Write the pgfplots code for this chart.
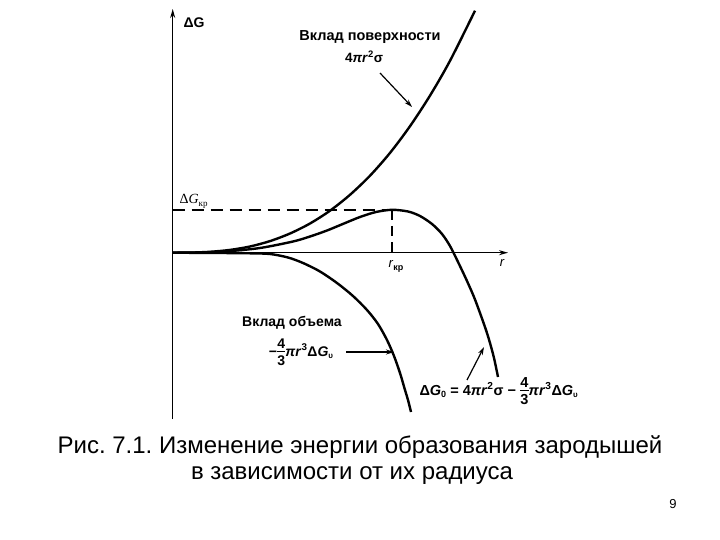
\documentclass[border=0pt]{standalone}
\usepackage{pgfplots}
\pgfplotsset{compat=1.18}
\usepackage{fontspec}
\setmainfont{Liberation Sans}
\newfontfamily\serif{Liberation Serif}
\usetikzlibrary{arrows.meta}
\newcommand{\ft}{\raisebox{-0.65em}{\shortstack{4\\[0pt]\rule{0.6em}{1.1pt}\\[0pt]3}}}
\begin{document}
\frenchspacing
\begin{tikzpicture}
\begin{axis}[
  scale only axis, width=720pt, height=540pt,
  xmin=0, xmax=720, ymin=0, ymax=540, y dir=reverse,
  hide axis, clip=false,
]
\path (axis cs:0,0) rectangle (axis cs:720,540);
% axes
\addplot[black, line width=1.3pt, -{Stealth[length=9pt,width=5pt]}] coordinates {(172.7,419) (172.7,9)};
\addplot[black, line width=1.3pt, -{Stealth[length=9pt,width=5pt]}] coordinates {(172.7,252.7) (508,252.7)};
% dashed critical lines
\addplot[black, line width=1.3pt, dash pattern=on 12pt off 7pt] coordinates {(172.7,210) (392,210)};
\addplot[black, line width=1.3pt, dash pattern=on 10pt off 6pt] coordinates {(392,210) (392,258)};
% surface contribution
\addplot[black, line width=2.4pt, smooth] coordinates {
 (172.7,252.7) (190,252.6) (210,251.8) (230,249.9) (250,246.5) (270,241.1) (290,233.5) (310,223.5)
 (330,210.7) (350,194.8) (370,175.7) (390,152.9) (410,126.2) (430,95.6) (450,60.8) (475,10.7)};
% total
\addplot[black, line width=2.4pt, smooth] coordinates {
 (172.7,252.7) (200,252.5) (227,251.3) (260,248) (293,241.5) (310,236.5) (327,230.5) (344,223.5) (360,217)
 (376,212) (392,209.8) (408,211.5) (420,216) (432,224) (442,234) (450,246) (459,264) (467,281) (474,297)
 (480,313) (486,330) (490,343) (494,358) (498,377)};
% volume
\addplot[black, line width=2.4pt, smooth] coordinates {
 (172.7,252.7) (220,253) (250,253.3) (270,254) (288,257.5) (303,263) (320,271.5) (337,283) (353,296) (367,310)
 (378,324) (387,340) (394,356) (400,373) (405,390) (408,400) (411,412)};
% annotation arrows
\draw[line width=1.2pt, -{Stealth[length=8pt,width=5pt]}] (axis cs:380,73) -- (axis cs:412,107);
\draw[line width=1.2pt, -{Stealth[length=8pt,width=5pt]}] (axis cs:346,352) -- (axis cs:394,352);
\draw[line width=1.2pt, -{Stealth[length=8pt,width=5pt]}] (axis cs:467,380) -- (axis cs:484,347);
% labels
\node[anchor=west, font=\fontsize{14}{16}\selectfont\bfseries] at (axis cs:180,23) {ΔG};
\node[anchor=west, font=\fontsize{14}{16}\selectfont\serif] at (axis cs:176,201) {Δ\textit{G}\raisebox{-3pt}{\fontsize{9}{10}\selectfont кр}};
\node[anchor=center, font=\fontsize{13}{15}\selectfont\itshape] at (axis cs:502,263) {r};
\node[anchor=center, font=\fontsize{13}{15}\selectfont] at (axis cs:396,266) {\textit{r}\raisebox{-3pt}{\fontsize{9}{10}\selectfont\bfseries кр}};
\node[anchor=center, font=\fontsize{14.5}{16}\selectfont\bfseries] at (axis cs:370,37) {Вклад поверхности};
\node[anchor=center, font=\fontsize{13.5}{15}\selectfont\bfseries] at (axis cs:364,57) {4\textit{πr}\textsuperscript{2}σ};
\node[anchor=center, font=\fontsize{14}{16}\selectfont\bfseries] at (axis cs:292,323) {Вклад объема};
\node[anchor=center, font=\fontsize{14}{15}\selectfont\bfseries] at (axis cs:301,352) {−\ft\textit{πr}\textsuperscript{3}Δ\textit{G}\raisebox{-2pt}{\fontsize{8}{9}\selectfont υ}};
\node[anchor=west, font=\fontsize{14.5}{15}\selectfont\bfseries] at (axis cs:416,391) {Δ\textit{G}\raisebox{-2pt}{\fontsize{9}{10}\selectfont 0} = 4\textit{πr}\textsuperscript{2}σ − \ft\textit{πr}\textsuperscript{3}Δ\textit{G}\raisebox{-2pt}{\fontsize{8}{9}\selectfont υ}};
\node[anchor=center, font=\fontsize{24}{27}\selectfont] at (axis cs:360,447) {Рис. 7.1. Изменение энергии образования зародышей};
\node[anchor=center, font=\fontsize{24}{27}\selectfont] at (axis cs:352,476) {в зависимости от их радиуса};
\node[anchor=center, font=\fontsize{13}{15}\selectfont] at (axis cs:673,504) {9};
\end{axis}
\end{tikzpicture}
\end{document}
